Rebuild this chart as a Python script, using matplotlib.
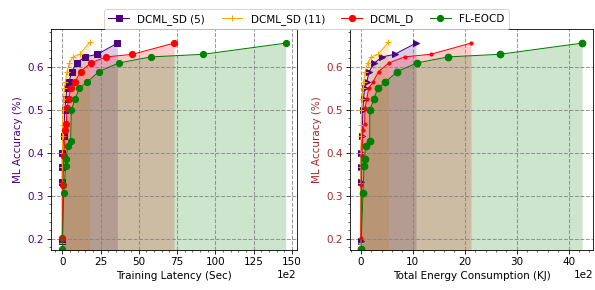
import matplotlib
matplotlib.use('Agg')
import matplotlib.pyplot as plt

labels = ['DCML_SD (5)', 'DCML_SD (11)', 'DCML_D', 'FL-EOCD']
colors = ['indigo', 'orange', 'red', 'green']

# accuracy values per method
acc_sd5 = [0.195, 0.333, 0.366, 0.40, 0.44, 0.50, 0.524, 0.55, 0.564, 0.589, 0.609, 0.623, 0.629, 0.655]
acc_sd11 = [0.19, 0.33, 0.366, 0.40, 0.44, 0.465, 0.50, 0.524, 0.55, 0.564, 0.589, 0.609, 0.623, 0.629, 0.657]
acc_d = [0.203, 0.324, 0.393, 0.452, 0.467, 0.505, 0.524, 0.55, 0.564, 0.589, 0.609, 0.623, 0.629, 0.655]
acc_fl = [0.176, 0.307, 0.370, 0.386, 0.416, 0.428, 0.50, 0.524, 0.55, 0.564, 0.589, 0.609, 0.623, 0.629, 0.655]

# training latency (sec)
lat_sd5 = [0, 0, 0, 0, 90, 160, 230, 300, 440, 610, 930, 1460, 2290, 3600]
lat_sd11 = [0, 0, 0, 0, 20, 20, 40, 90, 130, 200, 300, 460, 700, 1130, 1780]
lat_d = [0, 40, 90, 200, 260, 310, 410, 540, 800, 1200, 1850, 2880, 4580, 7300]
lat_fl = [0, 90, 220, 220, 370, 540, 590, 830, 1100, 1600, 2400, 3700, 5800, 9200, 14600]

# total energy consumption (KJ)
en_sd5 = [0, 0, 0, 0, 20, 40, 50, 70, 110, 160, 260, 410, 650, 1060]
en_sd11 = [0, 0, 0, 0, 5, 5, 10, 20, 40, 50, 80, 130, 200, 330, 530]
en_d = [0, 10, 20, 40, 70, 80, 110, 150, 230, 340, 540, 840, 1340, 2120]
en_fl = [0, 40, 60, 70, 90, 170, 170, 250, 320, 470, 700, 1080, 1680, 2670, 4260]

acc = [acc_sd5, acc_sd11, acc_d, acc_fl]
lat = [lat_sd5, lat_sd11, lat_d, lat_fl]
en = [en_sd5, en_sd11, en_d, en_fl]

fig = plt.figure(figsize=(8, 3.9), dpi=74.375)
ax1 = fig.add_axes([0.086, 0.138, 0.413, 0.762])
ax2 = fig.add_axes([0.588, 0.138, 0.409, 0.762])

markers1 = ['s', '+', 'o', 'o']
markers2 = ['>', '+', '.', 'o']
sizes1 = [6, 6, 6, 6]
sizes2 = [6.5, 6, 6, 6.5]

for i in range(4):
    ax1.plot(lat[i], acc[i], marker=markers1[i], color=colors[i], markersize=sizes1[i],
             linewidth=1, label=labels[i])
    ax1.fill_between(lat[i], acc[i], 0, color=colors[i], alpha=0.2, linewidth=0)
    ax2.plot(en[i], acc[i], marker=markers2[i], color=colors[i], markersize=sizes2[i],
             linewidth=1, label=labels[i])
    ax2.fill_between(en[i], acc[i], 0, color=colors[i], alpha=0.2, linewidth=0)

ax1.set_xlabel('Training Latency (Sec)')
ax2.set_xlabel('Total Energy Consumption (KJ)')
ax1.set_ylabel('ML Accuracy (%)', color='indigo')
ax2.set_ylabel('ML Accuracy (%)', color='brown')
ax1.tick_params(axis='y', labelcolor='indigo')
ax2.tick_params(axis='y', labelcolor='brown')

for ax in [ax1, ax2]:
    ax.set_ylim(0.174, 0.688)
    ax.ticklabel_format(axis='x', style='sci', scilimits=(2, 2))
    ax.minorticks_on()
    ax.grid(True, which='major', linestyle='--', color='gray', linewidth=1, alpha=0.8)

h, l = ax1.get_legend_handles_labels()
fig.legend(h, l, loc='upper center', ncol=4, bbox_to_anchor=(0.515, 0.985),
           frameon=True, columnspacing=1.6)

plt.savefig('out.png', dpi=74.375)
